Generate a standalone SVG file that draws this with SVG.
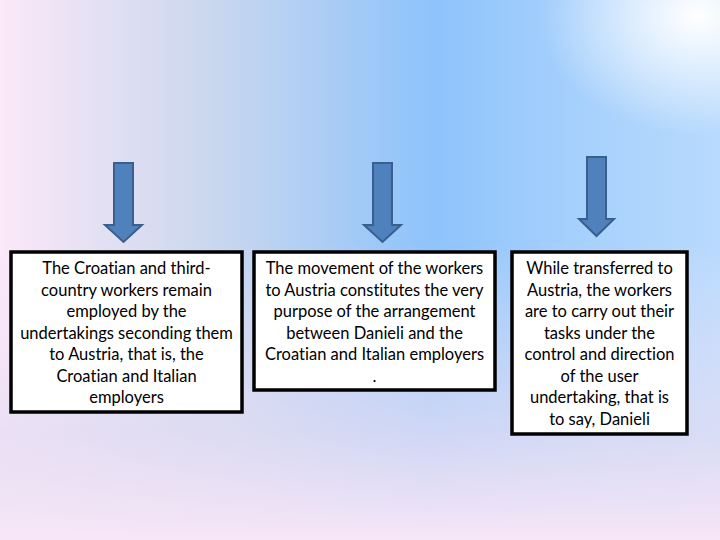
<svg xmlns="http://www.w3.org/2000/svg" width="720" height="540" viewBox="0 0 720 540">
<defs>
<linearGradient id="bgH" x1="0" y1="0" x2="1" y2="0">
<stop offset="0" stop-color="#fbe8f8"/>
<stop offset="0.3" stop-color="#c9d7ee"/>
<stop offset="0.6" stop-color="#8ec3fb"/>
<stop offset="0.8" stop-color="#a6d0fc"/>
<stop offset="1" stop-color="#b8dafd"/>
</linearGradient>
<linearGradient id="bgV" x1="0" y1="0" x2="0" y2="1">
<stop offset="0.45" stop-color="#f4e6f7" stop-opacity="0"/>
<stop offset="0.8" stop-color="#e4ddf3" stop-opacity="0.75"/>
<stop offset="1" stop-color="#f7e6f7" stop-opacity="1"/>
</linearGradient>
<radialGradient id="bgR" cx="0.97" cy="0.03" r="0.22">
<stop offset="0" stop-color="#ffffff" stop-opacity="1"/>
<stop offset="1" stop-color="#ffffff" stop-opacity="0"/>
</radialGradient>
<style>
.arrow{fill:#4f81bd;stroke:#3a5f8c;stroke-width:2;stroke-linejoin:miter}
.box{fill:#ffffff;stroke:#000000;stroke-width:3.5}
.t{font-family:Lato,"Open Sans","Liberation Sans",sans-serif;font-size:16.5px;fill:#000000;text-anchor:middle;font-variant-ligatures:none}
</style>
</defs>
<rect width="720" height="540" fill="url(#bgH)"/>
<rect width="720" height="540" fill="url(#bgV)"/>
<rect width="720" height="540" fill="url(#bgR)"/>
<g id="connectors">
<path class="arrow" d="M114,163 H133 V225 H142 L123.5,242 L105,225 H114 Z"/>
<path class="arrow" d="M373,163 H392 V225 H401 L382.5,242 L364,225 H373 Z"/>
<path class="arrow" d="M587,157 H606 V219 H614 L596.5,236 L579,219 H587 Z"/>
</g>
<g id="node1">
<rect class="box" x="11" y="252" width="231" height="160"/>
<text class="t" x="126.5" y="274">The Croatian and third-</text>
<text class="t" x="126.5" y="295.5">country workers remain</text>
<text class="t" x="126.5" y="317">employed by the</text>
<text class="t" x="126.5" y="338.5">undertakings seconding them</text>
<text class="t" x="126.5" y="360">to Austria, that is, the</text>
<text class="t" x="126.5" y="381.5">Croatian and Italian</text>
<text class="t" x="126.5" y="403">employers</text>
</g>
<g id="node2">
<rect class="box" x="254" y="252" width="241" height="138"/>
<text class="t" x="374.5" y="274">The movement of the workers</text>
<text class="t" x="374.5" y="295.5">to Austria constitutes the very</text>
<text class="t" x="374.5" y="317">purpose of the arrangement</text>
<text class="t" x="374.5" y="338.5">between Danieli and the</text>
<text class="t" x="374.5" y="360">Croatian and Italian employers</text>
<text class="t" x="374.5" y="381.5">.</text>
</g>
<g id="node3">
<rect class="box" x="512" y="252" width="175" height="182"/>
<text class="t" x="599.5" y="274">While transferred to</text>
<text class="t" x="599.5" y="295.5">Austria, the workers</text>
<text class="t" x="599.5" y="317">are to carry out their</text>
<text class="t" x="599.5" y="338.5">tasks under the</text>
<text class="t" x="599.5" y="360">control and direction</text>
<text class="t" x="599.5" y="381.5">of the user</text>
<text class="t" x="599.5" y="403">undertaking, that is</text>
<text class="t" x="599.5" y="424.5">to say, Danieli</text>
</g>
</svg>
